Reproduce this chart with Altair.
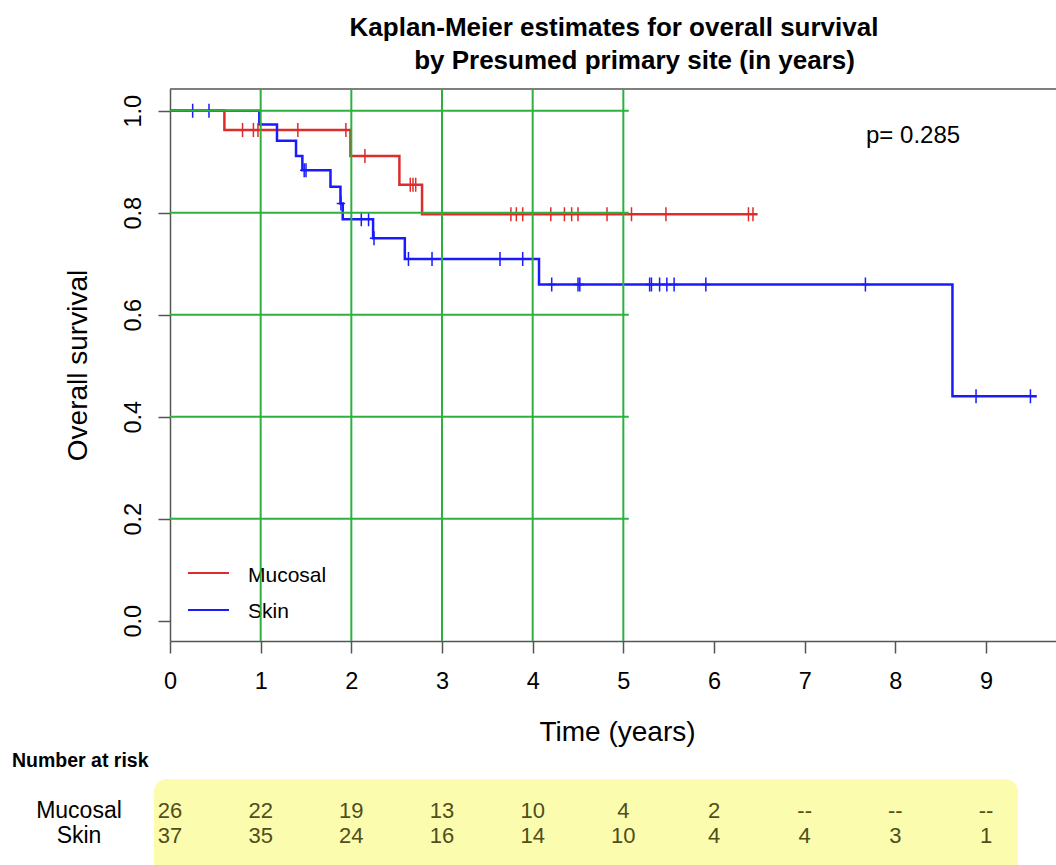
import altair as alt
import pandas as pd

# ---------------- data ----------------
groups = ["Mucosal", "Skin"]
colors = ["#dd2c2c", "#1a1aff"]

muc_t = [0.0, 0.60, 1.99, 2.53, 2.78, 6.48]
muc_s = [1.0, 0.962, 0.911, 0.855, 0.797, 0.797]
muc_cens = [0.80, 0.92, 0.97, 1.41, 1.94, 2.15, 2.65, 2.68, 2.71, 3.76, 3.82,
            3.89, 4.20, 4.35, 4.43, 4.50, 4.82, 5.09, 5.47, 6.38, 6.43]

skin_t = [0.0, 0.985, 1.18, 1.39, 1.46, 1.77, 1.88, 1.905, 2.24, 2.59, 4.07, 8.63, 9.56]
skin_s = [1.0, 0.973, 0.941, 0.911, 0.883, 0.851, 0.818, 0.787, 0.750, 0.709, 0.659, 0.440, 0.440]
skin_cens = [0.25, 0.43, 1.48, 1.50, 1.885, 2.11, 2.19, 2.25, 2.63, 2.89, 3.64, 3.89,
             4.21, 4.50, 4.52, 5.29, 5.31, 5.40, 5.48, 5.56, 5.91, 7.67, 8.89, 9.49]

x_ticks = [0, 1, 2, 3, 4, 5, 6, 7, 8, 9]
y_ticks = [0.0, 0.2, 0.4, 0.6, 0.8, 1.0]
grid_x = [1, 2, 3, 4, 5]
grid_y = [0.2, 0.4, 0.6, 0.8, 1.0]
grid_y_end = 5.06

risk_times = [0, 1, 2, 3, 4, 5, 6, 7, 8, 9]
risk_mucosal = ["26", "22", "19", "13", "10", "4", "2", "--", "--", "--"]
risk_skin = ["37", "35", "24", "16", "14", "10", "4", "4", "3", "1"]

p_text = "p= 0.285"
title1 = "Kaplan-Meier estimates for overall survival"
title2 = "by Presumed primary site (in years)"

# ---------------- layout ----------------
W, H = 886, 552
XD = [0, 9.772]
YD = [-0.0398, 1.0425]
FONT = "Liberation Sans"
FRAME = "#555555"
GREEN = "#2eb040"
OLIVE = "#4f4f1c"
TICKFS = 23.5

# ---------------- tables ----------------
def step_lookup(ts, ss, c):
    v = ss[0]
    for t, s in zip(ts, ss):
        if t <= c:
            v = s
    return v

curve_rows = []
for t, s in zip(muc_t, muc_s):
    curve_rows.append({"t": t, "s": s, "g": groups[0]})
for t, s in zip(skin_t, skin_s):
    curve_rows.append({"t": t, "s": s, "g": groups[1]})
curves = pd.DataFrame(curve_rows)

cens_rows = []
for c in muc_cens:
    cens_rows.append({"t": c, "s": step_lookup(muc_t, muc_s, c), "g": groups[0]})
for c in skin_cens:
    cens_rows.append({"t": c, "s": step_lookup(skin_t, skin_s, c), "g": groups[1]})
cens = pd.DataFrame(cens_rows)

gx = pd.DataFrame({"t": grid_x})
gy = pd.DataFrame({"s": grid_y, "t": [0.0] * len(grid_y), "t2": [grid_y_end] * len(grid_y)})
risk_m = pd.DataFrame({"t": risk_times, "n": risk_mucosal})
risk_s = pd.DataFrame({"t": risk_times, "n": risk_skin})
one = pd.DataFrame({"a": [0]})

# ---------------- scales / axes ----------------
xscale = alt.Scale(domain=XD, nice=False, zero=False)
yscale = alt.Scale(domain=YD, nice=False, zero=False)
xaxis = alt.Axis(values=x_ticks, title="Time (years)", tickSize=12, labelFontSize=TICKFS,
                 labelFont=FONT, labelColor="black", labelBaseline="alphabetic",
                 labelPadding=35, labelFlush=False, labelOverlap=False,
                 domainColor=FRAME, domainWidth=1.5, tickColor=FRAME, tickWidth=1.5,
                 grid=False, titleFont=FONT, titleFontSize=28, titleFontWeight="normal",
                 titleColor="black", titleBaseline="alphabetic", titleAlign="center",
                 titleX=447, titleY=99)
yaxis = alt.Axis(values=y_ticks, format=".1f", title="Overall survival", tickSize=12,
                 labelFontSize=TICKFS, labelFont=FONT, labelColor="black", labelAngle=270,
                 labelAlign="center", labelBaseline="alphabetic", labelPadding=18,
                 labelFlush=False, labelOverlap=False,
                 domainColor=FRAME, domainWidth=1.5, tickColor=FRAME, tickWidth=1.5,
                 grid=False, titleFont=FONT, titleFontSize=28, titleFontWeight="normal",
                 titleColor="black", titleAngle=270, titleBaseline="alphabetic",
                 titleAlign="center", titleX=-84, titleY=276)

def X(field="t"):
    return alt.X(f"{field}:Q", scale=xscale, axis=xaxis)

def Y(field="s"):
    return alt.Y(f"{field}:Q", scale=yscale, axis=yaxis)

cscale = alt.Scale(domain=groups, range=colors)

# ---------------- layers ----------------
box = alt.Chart(one).mark_rect(color="#fcfcae", cornerRadius=13).encode(
    x=alt.value(-16), x2=alt.value(848), y=alt.value(690), y2=alt.value(820))

lines = alt.Chart(curves).mark_line(interpolate="step-after", strokeWidth=2.5).encode(
    x=X(), y=Y(), color=alt.Color("g:N", scale=cscale, legend=None), detail="g:N")

plus = "M0,-1L0,1M-0.6,0L0.6,0"
marks = alt.Chart(cens).mark_point(shape=plus, size=196, filled=False, strokeWidth=1.5,
                                   opacity=1).encode(
    x=X(), y=Y(), color=alt.Color("g:N", scale=cscale, legend=None))

topframe = alt.Chart(one).mark_rule(color=FRAME, strokeWidth=1.5).encode(
    x=alt.value(0), x2=alt.value(W), y=alt.value(0))

vgrid = alt.Chart(gx).mark_rule(color=GREEN, strokeWidth=2).encode(
    x=X(), y=alt.value(0), y2=alt.value(H))
hgrid = alt.Chart(gy).mark_rule(color=GREEN, strokeWidth=2).encode(
    x=X(), x2="t2:Q", y=Y())

leg_m_line = alt.Chart(one).mark_rule(color=colors[0], strokeWidth=2).encode(
    x=alt.value(18), x2=alt.value(59), y=alt.value(484))
leg_s_line = alt.Chart(one).mark_rule(color=colors[1], strokeWidth=2).encode(
    x=alt.value(18), x2=alt.value(59), y=alt.value(521))
leg_m_txt = alt.Chart(one).mark_text(text=groups[0], font=FONT, fontSize=21, align="left",
                                     baseline="alphabetic", color="black").encode(
    x=alt.value(78), y=alt.value(492.7))
leg_s_txt = alt.Chart(one).mark_text(text=groups[1], font=FONT, fontSize=21, align="left",
                                     baseline="alphabetic", color="black").encode(
    x=alt.value(78), y=alt.value(528.7))

ptxt = alt.Chart(one).mark_text(text=p_text, font=FONT, fontSize=24, align="left",
                                baseline="alphabetic", color="black").encode(
    x=alt.value(696), y=alt.value(54))

t1 = alt.Chart(one).mark_text(text=title1, font=FONT, fontSize=26, fontWeight="bold",
                              align="center", baseline="alphabetic", color="black").encode(
    x=alt.value(444), y=alt.value(-53))
t2 = alt.Chart(one).mark_text(text=title2, font=FONT, fontSize=26, fontWeight="bold",
                              align="center", baseline="alphabetic", color="black").encode(
    x=alt.value(464.5), y=alt.value(-20))

nar = alt.Chart(one).mark_text(text="Number at risk", font=FONT, fontSize=19.5,
                               fontWeight="bold", align="left", baseline="alphabetic",
                               color="black").encode(x=alt.value(-158), y=alt.value(678))
row_m = alt.Chart(one).mark_text(text=groups[0], font=FONT, fontSize=23, align="center",
                                 baseline="alphabetic", color="black").encode(
    x=alt.value(-91), y=alt.value(729))
row_s = alt.Chart(one).mark_text(text=groups[1], font=FONT, fontSize=23, align="center",
                                 baseline="alphabetic", color="black").encode(
    x=alt.value(-91), y=alt.value(754))

num_m = alt.Chart(risk_m).mark_text(font=FONT, fontSize=22, align="center",
                                    baseline="alphabetic", color=OLIVE).encode(
    x=X(), y=alt.value(729), text="n:N")
num_s = alt.Chart(risk_s).mark_text(font=FONT, fontSize=22, align="center",
                                    baseline="alphabetic", color=OLIVE).encode(
    x=X(), y=alt.value(754), text="n:N")

chart = alt.layer(
    box, lines, marks, topframe, leg_m_line, leg_s_line, leg_m_txt, leg_s_txt,
    vgrid, hgrid, ptxt, t1, t2, nar, row_m, row_s, num_m, num_s
).properties(
    width=W, height=H,
    padding={"left": 170, "top": 89, "right": 0, "bottom": 224},
    autosize=alt.AutoSizeParams(type="none"),
    background="white",
).configure_view(stroke=None).configure_axis(
    labelFontSize=TICKFS, labelFont=FONT, labelColor="black"
)

chart.save("out.html", embed_options={"renderer": "svg", "actions": False})
